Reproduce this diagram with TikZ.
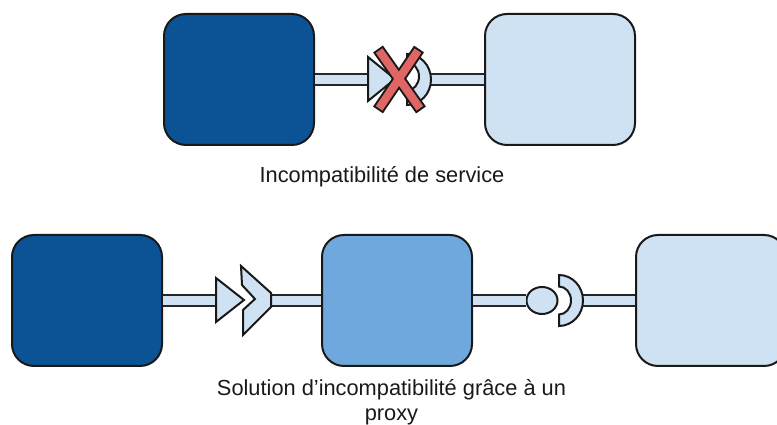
\documentclass[tikz,border=0pt]{standalone}
\usepackage{fontspec}
\usetikzlibrary{shapes.geometric}
\setmainfont{Liberation Sans}
\definecolor{cdark}{HTML}{0B5394}
\definecolor{cmid}{HTML}{6FA8DC}
\definecolor{clight}{HTML}{CFE2F3}
\definecolor{cred}{HTML}{E06666}
\tikzset{
  box/.style={draw=black!90,line width=2pt,rounded corners=22pt,minimum width=150pt,minimum height=131pt,inner sep=0pt},
  bar/.style={draw=black!85,line width=2pt,double=clight,double distance=9pt},
  part/.style={draw=black!90,line width=2pt,fill=clight,line join=miter},
  lab/.style={font=\fontsize{21.8}{25}\selectfont,align=center,text=black!90,inner sep=0pt},
  crossout/.style={draw=black!90,line width=12pt},
  crossin/.style={draw=cred,line width=8pt,shorten >=2pt,shorten <=2pt}
}
\begin{document}
\begin{tikzpicture}[x=1pt,y=1pt]
\useasboundingbox (0,0) rectangle (777,425);
\clip (0,0) rectangle (777,425);
% top row
\node[box,fill=cdark] (a) at (239,345.5) {};
\node[box,fill=clight] (b) at (560,345.5) {};
\coordinate (tl) at (368,345.5);
\coordinate (sr) at (431,345.5);
\draw[bar] (a.east) -- (tl);
\draw[bar] (sr) -- (b.west);
\path[part] (368,368) -- (368,324) -- (395,346) -- cycle;
\path[part] (407,371) arc[start angle=90,end angle=-90,x radius=24,y radius=25.5] -- (407,334.5) arc[start angle=-90,end angle=90,x radius=12,y radius=14] -- cycle;
\node[lab] (t1) at (382,248) {Incompatibilité de service};
% cross
\coordinate (x1) at (378,376);
\coordinate (x2) at (421,315);
\coordinate (x3) at (419,376);
\coordinate (x4) at (378,315);
\draw[crossout] (x1) -- (x2);
\draw[crossout] (x3) -- (x4);
\draw[crossin] (x1) -- (x2);
\draw[crossin] (x3) -- (x4);
% bottom row
\node[box,fill=cdark] (c) at (87,124.5) {};
\node[box,fill=cmid] (d) at (397,124.5) {};
\node[box,fill=clight] (e) at (711,124.5) {};
\coordinate (l2) at (216,124.5);
\coordinate (l3) at (271,124.5);
\node[part,ellipse,minimum width=31pt,minimum height=27pt,inner sep=0pt] (f) at (542,124.5) {};
\coordinate (l4) at (583,124.5);
\draw[bar] (c.east) -- (l2);
\draw[bar] (l3) -- (d.west);
\draw[bar] (d.east) -- (f.west);
\draw[bar] (l4) -- (e.west);
\path[part] (216,147) -- (216,103) -- (244,125) -- cycle;
\path[part] (241,159) -- (271,132) -- (271,118) -- (243,90) -- (243,115) -- (255,126) -- (242,140) -- cycle;
\path[part] (559,150) arc[start angle=90,end angle=-90,x radius=24,y radius=25.5] -- (559,110.5) arc[start angle=-90,end angle=90,x radius=12,y radius=14] -- cycle;
\node[lab] (t2) at (391.5,22.5) {Solution d’incompatibilité grâce à un\\proxy};
\end{tikzpicture}
\end{document}
